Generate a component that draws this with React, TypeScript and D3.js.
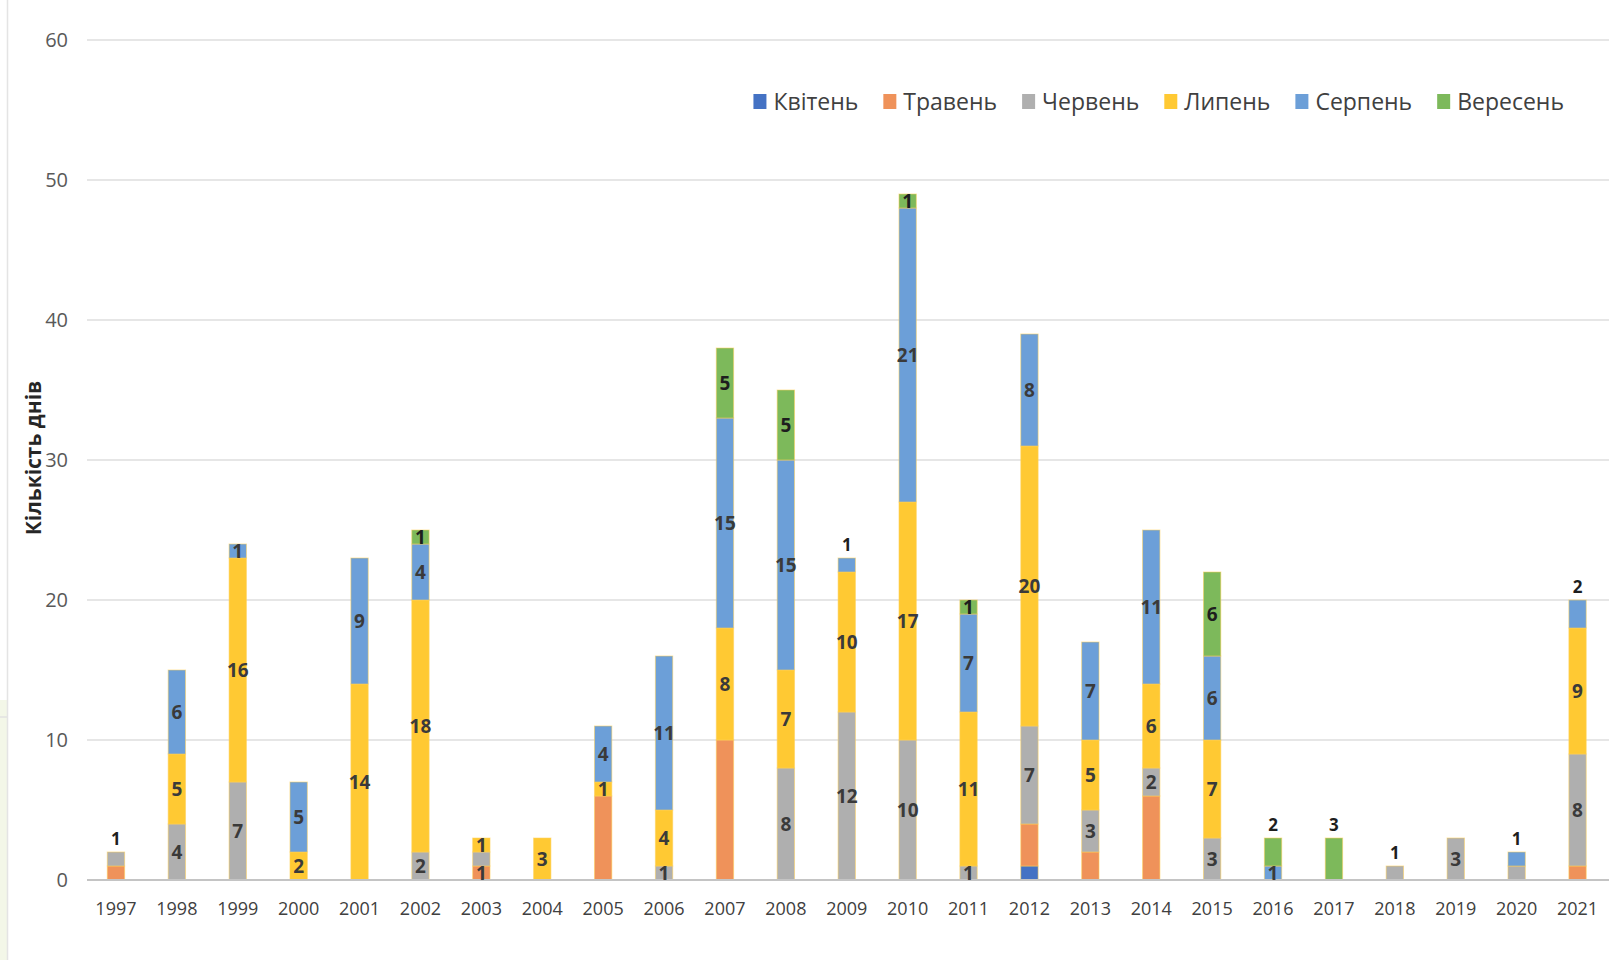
import React, { useEffect, useRef } from "react";
import * as d3 from "d3";

const years = [
  "1997", "1998", "1999", "2000", "2001", "2002", "2003", "2004", "2005",
  "2006", "2007", "2008", "2009", "2010", "2011", "2012", "2013", "2014",
  "2015", "2016", "2017", "2018", "2019", "2020", "2021",
];

const months = ["Квітень", "Травень", "Червень", "Липень", "Серпень", "Вересень"];

// days per month for each year, 1997..2021
const april = [0, 0, 0, 0, 0, 0, 0, 0, 0, 0, 0, 0, 0, 0, 0, 1, 0, 0, 0, 0, 0, 0, 0, 0, 0];
const may = [1, 0, 0, 0, 0, 0, 1, 0, 6, 0, 10, 0, 0, 0, 0, 3, 2, 6, 0, 0, 0, 0, 0, 0, 1];
const june = [1, 4, 7, 0, 0, 2, 1, 0, 0, 1, 0, 8, 12, 10, 1, 7, 3, 2, 3, 0, 0, 1, 3, 1, 8];
const july = [0, 5, 16, 2, 14, 18, 1, 3, 1, 4, 8, 7, 10, 17, 11, 20, 5, 6, 7, 0, 0, 0, 0, 0, 9];
const august = [0, 6, 1, 5, 9, 4, 0, 0, 4, 11, 15, 15, 1, 21, 7, 8, 7, 11, 6, 1, 0, 0, 0, 1, 2];
const september = [0, 0, 0, 0, 0, 1, 0, 0, 0, 0, 5, 5, 0, 1, 1, 0, 0, 0, 6, 2, 3, 0, 0, 0, 0];

const seriesValues = [april, may, june, july, august, september];

const yTicks = [0, 10, 20, 30, 40, 50, 60];

const colors = ["#4472c4", "#ef925a", "#afafaf", "#ffc933", "#6c9fd8", "#7db95b"];

// labels that are not printed
const hiddenLabels = new Set([
  "1997|Травень", "2003|Червень", "2005|Травень", "2007|Травень", "2012|Квітень",
  "2012|Травень", "2013|Травень", "2014|Травень", "2020|Червень", "2021|Травень",
]);
// labels printed above the column instead of inside the segment
const outsideLabels = new Set([
  "1997|Червень", "2009|Серпень", "2016|Вересень", "2017|Вересень",
  "2018|Червень", "2020|Серпень", "2021|Серпень",
]);

const W = 1609;
const H = 960;

export default function App() {
  const ref = useRef<SVGSVGElement | null>(null);

  useEffect(() => {
    const svg = d3.select(ref.current);
    svg.selectAll("*").remove();

    const rows = years.map((yr, i) => {
      const r: any = { year: yr };
      months.forEach((m, k) => (r[m] = seriesValues[k][i]));
      return r;
    });

    const x = d3.scaleBand<string>().domain(years).range([85.5, 1608]).paddingInner(0.715).paddingOuter(0.3575);
    const y = d3.scaleLinear().domain([0, 60]).range([880, 40]);

    svg.append("rect").attr("width", W).attr("height", H).attr("fill", "#ffffff");

    // page edge on the left
    svg.append("rect").attr("x", 0).attr("y", 700).attr("width", 7).attr("height", 260).attr("fill", "#f3f7e8");
    svg.append("line").attr("x1", 7.5).attr("x2", 7.5).attr("y1", 0).attr("y2", H).attr("stroke", "#e4e4e4").attr("stroke-width", 1.5);
    svg.append("line").attr("x1", 0).attr("x2", 7).attr("y1", 717).attr("y2", 717).attr("stroke", "#e2e2e2").attr("stroke-width", 1.5);

    // gridlines
    svg.append("g")
      .selectAll("line")
      .data(yTicks.filter((t) => t > 0))
      .join("line")
      .attr("x1", 87)
      .attr("x2", W)
      .attr("y1", (d) => y(d))
      .attr("y2", (d) => y(d))
      .attr("stroke", "#dedede")
      .attr("stroke-width", 1.5);

    // y tick labels
    svg.append("g")
      .selectAll("text")
      .data(yTicks)
      .join("text")
      .attr("x", 68)
      .attr("y", (d) => y(d))
      .attr("dy", "0.35em")
      .attr("text-anchor", "end")
      .attr("font-family", "'Open Sans', sans-serif")
      .attr("font-size", 20)
      .attr("fill", "#595959")
      .text((d) => String(d));

    // y axis title
    svg.append("text")
      .attr("transform", `translate(34,${458}) rotate(-90)`)
      .attr("text-anchor", "middle")
      .attr("dy", "0.35em")
      .attr("font-family", "'Open Sans', sans-serif")
      .attr("font-weight", 700)
      .attr("font-size", 21)
      .attr("fill", "#262626")
      .text("Кількість днів");

    const stacked = d3.stack<any>().keys(months)(rows);

    // bars
    const gBars = svg.append("g");
    stacked.forEach((s, k) => {
      gBars.append("g")
        .attr("fill", colors[k])
        .selectAll("rect")
        .data(s.filter((d) => d[1] - d[0] > 0))
        .join("rect")
        .attr("x", (d) => x(d.data.year)!)
        .attr("width", x.bandwidth())
        .attr("y", (d) => y(d[1]))
        .attr("height", (d) => y(d[0]) - y(d[1]))
        .attr("stroke", "rgba(255,210,90,0.55)")
        .attr("stroke-width", 1);
    });

    // baseline
    svg.append("line")
      .attr("x1", 87)
      .attr("x2", W)
      .attr("y1", y(0))
      .attr("y2", y(0))
      .attr("stroke", "#c4c4c4")
      .attr("stroke-width", 2);

    // x labels
    svg.append("g")
      .selectAll("text")
      .data(years)
      .join("text")
      .attr("x", (d) => x(d)! + x.bandwidth() / 2)
      .attr("y", 909)
      .attr("dy", "0.35em")
      .attr("text-anchor", "middle")
      .attr("font-family", "'Open Sans', sans-serif")
      .attr("font-size", 18)
      .attr("fill", "#404040")
      .text((d) => d);

    // data labels
    const gLabels = svg.append("g")
      .attr("font-family", "'Open Sans', sans-serif")
      .attr("font-weight", 700)
      .attr("text-anchor", "middle");
    stacked.forEach((s, k) => {
      const m = months[k];
      s.forEach((d) => {
        const v = d[1] - d[0];
        const key = `${d.data.year}|${m}`;
        if (v <= 0 || hiddenLabels.has(key)) return;
        const outside = outsideLabels.has(key);
        const cy = outside ? y(d[1]) - 13 : (y(d[0]) + y(d[1])) / 2;
        gLabels.append("text")
          .attr("x", x(d.data.year)! + x.bandwidth() / 2)
          .attr("y", cy)
          .attr("dy", "0.36em")
          .attr("font-size", outside ? 17 : 19)
          .attr("fill", k === 5 || outside ? "#1e1e1e" : "#3a3a3a")
          .text(String(v));
      });
    });

    // legend
    const legend = svg.append("g");
    const items = months.map((m, k) => {
      const g = legend.append("g");
      g.append("rect").attr("y", 94).attr("width", 13).attr("height", 15).attr("fill", colors[k]);
      const t = g.append("text")
        .attr("x", 20)
        .attr("y", 102)
        .attr("dy", "0.35em")
        .attr("font-family", "'Open Sans', sans-serif")
        .attr("font-size", 23)
        .attr("fill", "#404040")
        .text(m);
      const w = (t.node() as SVGTextElement).getComputedTextLength();
      return { g, w: 20 + w };
    });
    const gap = 25;
    const total = d3.sum(items, (d) => d.w) + gap * (items.length - 1);
    let cx = 1564 - total;
    items.forEach((it) => {
      it.g.attr("transform", `translate(${cx},0)`);
      cx += it.w + gap;
    });
  }, []);

  return (
    <svg
      ref={ref}
      width={W}
      height={H}
      viewBox={`0 0 ${W} ${H}`}
      style={{ position: "absolute", left: 0, top: 0, display: "block" }}
    />
  );
}
